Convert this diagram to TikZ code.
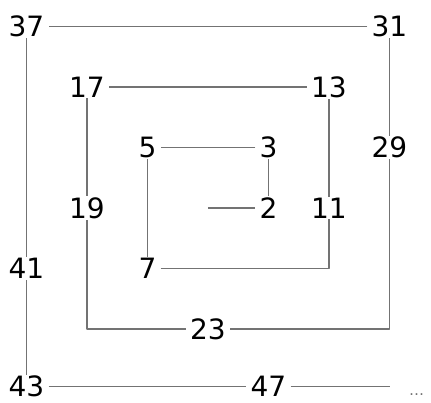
\documentclass[tikz,border=0pt]{standalone}
\usepackage{fontspec}
\setmainfont{DejaVu Sans}

\begin{document}
\begin{tikzpicture}[x=60.5pt,y=60.5pt,line join=round,
    num/.style={inner xsep=4pt,inner ysep=1pt,font=\fontsize{28}{30}\selectfont},
    arm/.style={draw=black!55,line width=1.8pt}]
    \useasboundingbox (-3.438,-3.223) rectangle (3.686,3.438);
    % Primes, placed on the square spiral (1 at the centre)
    \node[num] (n2)  at (1,0)   {2};
    \node[num] (n3)  at (1,1)   {3};
    \node[num] (n5)  at (-1,1)  {5};
    \node[num] (n7)  at (-1,-1) {7};
    \node[num] (n11) at (2,0)   {11};
    \node[num] (n13) at (2,2)   {13};
    \node[num] (n17) at (-2,2)  {17};
    \node[num] (n19) at (-2,0)  {19};
    \node[num] (n23) at (0,-2)  {23};
    \node[num] (n29) at (3,1)   {29};
    \node[num] (n31) at (3,3)   {31};
    \node[num] (n37) at (-3,3)  {37};
    \node[num] (n41) at (-3,-1) {41};
    \node[num] (n43) at (-3,-2.95) {43};
    \node[num] (n47) at (1,-2.95)  {47};
    \node[font=\fontsize{15}{16}\selectfont,text=black!55,anchor=base,inner sep=0pt] (more) at (3.45,-3.1) {\dots};
    % Centre, bends and loose end
    \coordinate (c1)   at (0,0);
    \coordinate (k7)   at (2,-1);
    \coordinate (k19)  at (-2,-2);
    \coordinate (k23)  at (3,-2);
    \coordinate (tail) at (3,-2.95);
    % The spiral
    \draw[arm] (c1) -- (n2) -- (n3) -- (n5) -- (n7) -- (k7) -- (n11)
        -- (n13) -- (n17) -- (n19) -- (k19) -- (n23) -- (k23) -- (n29)
        -- (n31) -- (n37) -- (n41) -- (n43) -- (n47) -- (tail);
\end{tikzpicture}
\end{document}
